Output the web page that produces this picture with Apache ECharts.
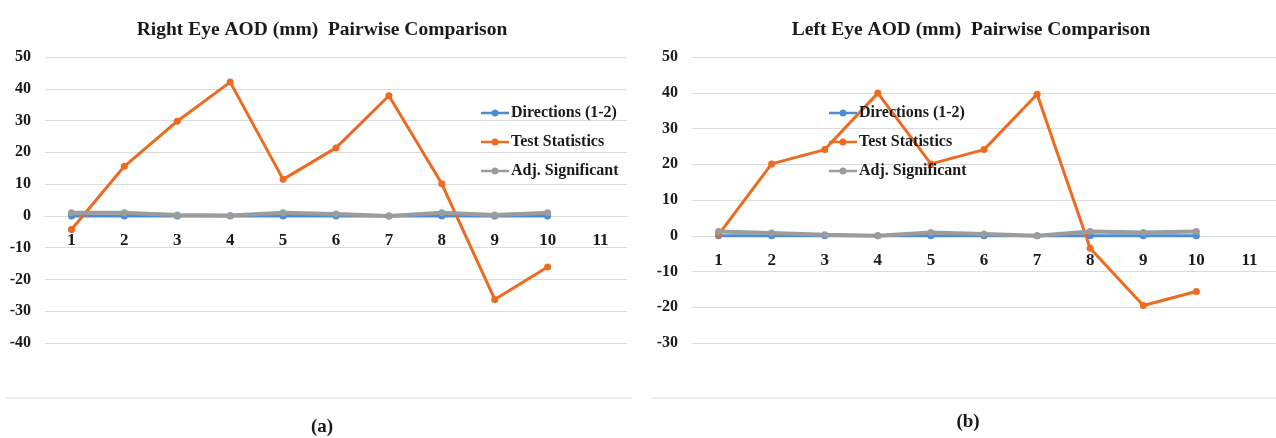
<!DOCTYPE html>
<html>
<head>
<meta charset="utf-8">
<script src="https://cdn.jsdelivr.net/npm/echarts@6/dist/echarts.min.js"></script>
<style>
  html, body { margin: 0; padding: 0; background: #fff; }
  #chart { width: 1276px; height: 438px; }
</style>
</head>
<body>
<div id="chart"></div>
<script>
// Pairwise comparison index (11 slots, data in the first 10)
const categories = ['1', '2', '3', '4', '5', '6', '7', '8', '9', '10', '11'];

// Right eye AOD (mm)
const rightDirections = [0, 0, 0, 0, 0, 0, 0, 0, 0, 0];
const rightTestStats  = [-4.3, 15.6, 29.8, 42.1, 11.5, 21.4, 37.8, 10.1, -26.3, -16.1];
const rightAdjSig     = [1.0, 1.0, 0.3, 0.1, 1.0, 0.6, 0.0, 1.0, 0.3, 1.0];

// Left eye AOD (mm)
const leftDirections = [0, 0, 0, 0, 0, 0, 0, 0, 0, 0];
const leftTestStats  = [0.3, 20.1, 24.1, 39.9, 20.1, 24.1, 39.6, -3.5, -19.5, -15.6];
const leftAdjSig     = [1.2, 0.8, 0.3, 0.0, 0.9, 0.5, 0.0, 1.2, 0.9, 1.2];

// Value axis extents
const rightAxisMin = -40, rightAxisMax = 50;
const leftAxisMin = -30, leftAxisMax = 50;
const axisStep = 10;

const seriesNames = ['Directions (1-2)', 'Test Statistics', 'Adj. Significant'];
const colors = ['#4E8CD3', '#EE6A1E', '#9C9C9C'];

const serif = '"Liberation Serif", "Times New Roman", serif';
const gridColor = '#DCDCDC';
const textColor = '#1a1a1a';

const grids = [
  { left: 45, top: 57, width: 582, height: 286 },
  { left: 692, top: 57, width: 584, height: 286 }
];

// Category axis sits on the zero line of its value axis
function xAxis(gridIndex, min, max) {
  const g = grids[gridIndex];
  const zeroOffset = -g.height * (0 - min) / (max - min);
  return {
    type: 'category', gridIndex, data: categories, boundaryGap: true,
    position: 'bottom', offset: zeroOffset,
    axisLine: { show: true, onZero: false, lineStyle: { color: gridColor, width: 1 } },
    axisTick: { show: false },
    axisLabel: { margin: 16, fontFamily: serif, fontWeight: 'bold', fontSize: 17, color: textColor }
  };
}
function yAxis(gridIndex, min, max) {
  return {
    type: 'value', gridIndex, min, max, interval: axisStep,
    axisLine: { show: false }, axisTick: { show: false },
    splitLine: { lineStyle: { color: gridColor, width: 1 } },
    axisLabel: { margin: 14, fontFamily: serif, fontWeight: 'bold', fontSize: 16, color: textColor }
  };
}
function lineSeries(name, data, idx, color, width) {
  return {
    name, type: 'line', data, xAxisIndex: idx, yAxisIndex: idx,
    symbol: 'circle', symbolSize: 7, showSymbol: true,
    lineStyle: { color, width }, itemStyle: { color },
    animation: false
  };
}
function legend(left) {
  return {
    orient: 'vertical', left, top: 100, itemWidth: 28, itemHeight: 12, itemGap: 13,
    data: seriesNames,
    icon: 'path://M0,2.7 L28,2.7 L28,5.3 L0,5.3 Z M10.5,4 A3.5,3.5 0 1,1 17.5,4 A3.5,3.5 0 1,1 10.5,4 Z',
    textStyle: { fontFamily: serif, fontWeight: 'bold', fontSize: 16, color: textColor, padding: [0, 0, 0, -3] },
    selectedMode: false
  };
}

const chart = echarts.init(document.getElementById('chart'), null, { renderer: 'canvas' });
chart.setOption({
  backgroundColor: '#fff',
  animation: false,
  color: colors,
  title: [
    { text: 'Right Eye AOD (mm)  Pairwise Comparison', left: 317, top: 15, textAlign: 'center',
      textStyle: { fontFamily: serif, fontWeight: 'bold', fontSize: 19.5, color: textColor } },
    { text: 'Left Eye AOD (mm)  Pairwise Comparison', left: 966, top: 15, textAlign: 'center',
      textStyle: { fontFamily: serif, fontWeight: 'bold', fontSize: 19.5, color: textColor } }
  ],
  legend: [legend(476), legend(824)],
  grid: grids,
  xAxis: [xAxis(0, rightAxisMin, rightAxisMax), xAxis(1, leftAxisMin, leftAxisMax)],
  yAxis: [yAxis(0, rightAxisMin, rightAxisMax), yAxis(1, leftAxisMin, leftAxisMax)],
  series: [
    lineSeries(seriesNames[0], rightDirections, 0, colors[0], 3),
    lineSeries(seriesNames[1], rightTestStats, 0, colors[1], 3),
    lineSeries(seriesNames[2], rightAdjSig, 0, colors[2], 4),
    lineSeries(seriesNames[0], leftDirections, 1, colors[0], 3),
    lineSeries(seriesNames[1], leftTestStats, 1, colors[1], 3),
    lineSeries(seriesNames[2], leftAdjSig, 1, colors[2], 4)
  ],
  graphic: [
    { type: 'line', shape: { x1: 6, y1: 398, x2: 632, y2: 398 }, style: { stroke: gridColor, lineWidth: 1 } },
    { type: 'line', shape: { x1: 652, y1: 398, x2: 1276, y2: 398 }, style: { stroke: gridColor, lineWidth: 1 } },
    { type: 'text', x: 322, y: 427, style: { text: '(a)', fontFamily: serif, fontWeight: 'bold', fontSize: 19,
      fill: textColor, textAlign: 'center', textVerticalAlign: 'middle' } },
    { type: 'text', x: 968, y: 422, style: { text: '(b)', fontFamily: serif, fontWeight: 'bold', fontSize: 19,
      fill: textColor, textAlign: 'center', textVerticalAlign: 'middle' } }
  ]
});
</script>
</body>
</html>
